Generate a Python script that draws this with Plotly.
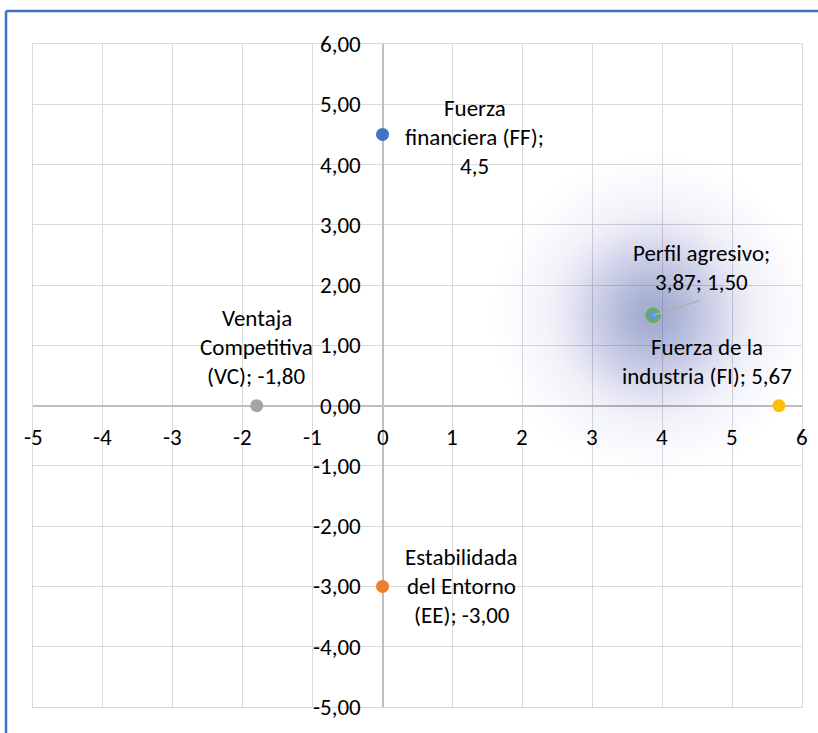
import math
import plotly.graph_objects as go

# ---- data -------------------------------------------------------------
point_names = ["Fuerza financiera (FF)", "Fuerza de la industria (FI)",
               "Ventaja Competitiva (VC)", "Estabilidada del Entorno (EE)"]
point_x = [0.0, 5.67, -1.80, 0.0]
point_y = [4.5, 0.0, 0.0, -3.00]
point_colors = ["#4472C4", "#FFC000", "#A5A5A5", "#ED7D31"]

profile_name = "Perfil agresivo"
profile_x = [3.87]
profile_y = [1.50]

x_ticks = [-5, -4, -3, -2, -1, 0, 1, 2, 3, 4, 5, 6]
y_ticks = [-5, -4, -3, -2, -1, 0, 1, 2, 3, 4, 5, 6]


def fmt(v, nd=2):
    return f"{v:.{nd}f}".replace(".", ",")


# wrapped data labels (value part built from the data above)
point_labels = [
    ["Fuerza", "financiera (FF);", fmt(point_y[0], 1)],
    ["Fuerza de la", "industria (FI); " + fmt(point_x[1])],
    ["Ventaja", "Competitiva", "(VC); " + fmt(point_x[2])],
    ["Estabilidada", "del Entorno", "(EE); " + fmt(point_y[3])],
]
profile_label = [profile_name + ";", fmt(profile_x[0]) + "; " + fmt(profile_y[0])]

# label block offsets from each point, in pixels (dx right, dy down)
point_label_offsets = [(92, 3), (-72, -44), (0, -59), (79, 0)]
profile_label_offset = (48, -48)

FONT = "Carlito, Calibri, Lato, sans-serif"
FSIZE = 23
LINE_H = 29

fig = go.Figure()

# soft glow behind the profile point: stacked translucent discs that add up
# to a gaussian-like falloff
GLOW_RGB = "65,95,170"
peak, sigma = 0.45, 56.0
radii = list(range(160, 2, -4))
prev = 0.0
for r in radii:
    target = peak * math.exp(-(r * r) / (2 * sigma * sigma))
    a = 1 - (1 - target) / (1 - prev)
    prev = target
    if a <= 0.001:
        continue
    fig.add_trace(go.Scatter(
        x=profile_x, y=profile_y, mode="markers", hoverinfo="skip",
        marker=dict(size=2 * r, color=f"rgba({GLOW_RGB},{a:.4f})", line=dict(width=0)),
        showlegend=False))

# factor points
for name, x, y, c in zip(point_names, point_x, point_y, point_colors):
    fig.add_trace(go.Scatter(x=[x], y=[y], mode="markers", name=name,
                             marker=dict(size=13, color=c, line=dict(width=0)),
                             showlegend=False))

# profile point
fig.add_trace(go.Scatter(x=profile_x, y=profile_y, mode="markers", name=profile_name,
                         marker=dict(size=13, color="#5B9BD5",
                                     line=dict(width=2.5, color="#70AD47")),
                         showlegend=False))

annotations = []


def add_block(lines, x, y, dx, dy):
    n = len(lines)
    for i, t in enumerate(lines):
        off = (i - (n - 1) / 2) * LINE_H + dy
        annotations.append(dict(x=x, y=y, xref="x", yref="y", text=t, showarrow=False,
                                xanchor="center", yanchor="middle",
                                xshift=dx, yshift=-off,
                                font=dict(family=FONT, size=FSIZE, color="#000000")))


for lines, x, y, (dx, dy) in zip(point_labels, point_x, point_y, point_label_offsets):
    add_block(lines, x, y, dx, dy)
add_block(profile_label, profile_x[0], profile_y[0], *profile_label_offset)

# leader line from the profile point to its label
annotations.append(dict(x=profile_x[0], y=profile_y[0], xref="x", yref="y", text="",
                        showarrow=True, arrowhead=0, arrowwidth=1.5, arrowcolor="#B0B0B0",
                        ax=48, ay=-15, standoff=0, startstandoff=0))

# tick labels placed along the zero axes
for v in y_ticks:
    annotations.append(dict(x=0, y=v, xref="x", yref="y", text=fmt(v), showarrow=False,
                            xanchor="right", yanchor="middle", xshift=-20,
                            font=dict(family=FONT, size=FSIZE, color="#000000")))
for v in x_ticks:
    annotations.append(dict(x=v, y=0, xref="x", yref="y", text=str(v), showarrow=False,
                            xanchor="center", yanchor="middle", yshift=-31,
                            font=dict(family=FONT, size=FSIZE, color="#000000")))

axis_style = dict(showgrid=True, gridcolor="#D9D9D9", gridwidth=1,
                  zeroline=True, zerolinecolor="#BFBFBF", zerolinewidth=1.5,
                  showline=True, mirror=True, linecolor="#D9D9D9", linewidth=1,
                  showticklabels=False, ticks="", dtick=1, fixedrange=True)

fig.update_layout(
    width=818, height=733,
    margin=dict(l=33, r=16, t=44, b=26),
    paper_bgcolor="white", plot_bgcolor="white",
    xaxis=dict(range=[-5, 6], tick0=-5, **axis_style),
    yaxis=dict(range=[-5, 6], tick0=-5, **axis_style),
    annotations=annotations,
    shapes=[
        dict(type="line", xref="paper", yref="paper", x0=-0.0351, x1=1.03,
             y0=1.0498, y1=1.0498, line=dict(color="#4472C4", width=2.5)),
        dict(type="line", xref="paper", yref="paper", x0=-0.0351, x1=-0.0351,
             y0=1.0498, y1=-0.06, line=dict(color="#4472C4", width=2.5)),
    ],
    showlegend=False,
)

fig.write_html("out.html")
